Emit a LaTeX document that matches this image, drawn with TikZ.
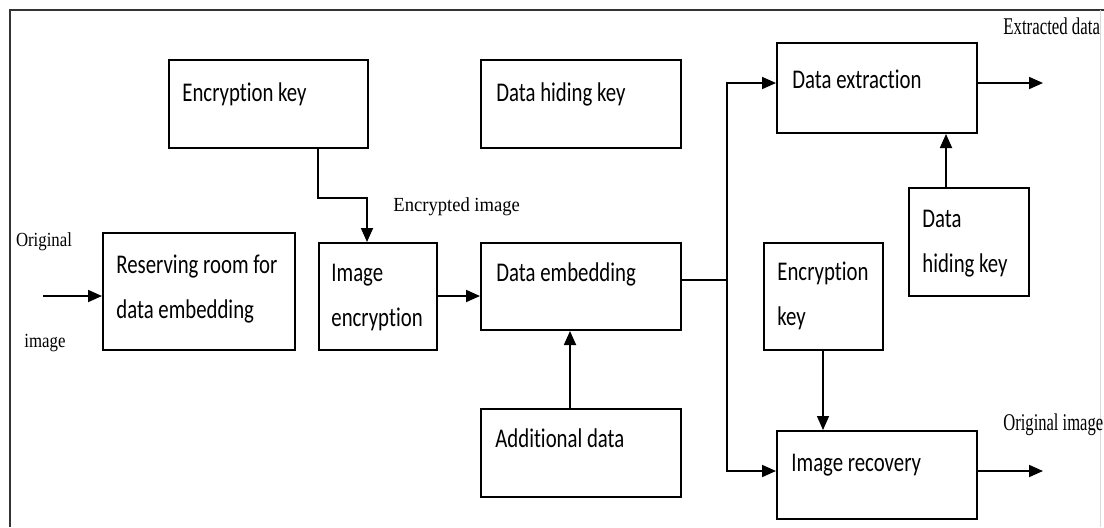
\documentclass[tikz,border=0pt]{standalone}
\usepackage{fontspec}
\usetikzlibrary{arrows.meta,fit}
\newfontfamily\boxfont[FakeStretch=0.77,Ligatures=NoCommon]{Carlito}
\newfontfamily\lblfont{Liberation Serif}
\newcommand{\sx}[2]{\scalebox{#1}[1]{#2}}
\begin{document}
\begin{tikzpicture}[x=0.5pt,y=-0.5pt,
  box/.style={draw=black, line width=1pt, inner sep=0pt},
  btxt/.style={font=\boxfont\fontsize{13.5}{22.5}\selectfont, anchor=base west, inner sep=0pt, align=left},
  ltxt/.style={font=\lblfont\fontsize{10}{12}\selectfont, inner sep=0pt},
  bigl/.style={font=\lblfont\fontsize{12}{14}\selectfont, inner sep=0pt},
  conn/.style={line width=0.9pt},
  arr/.style={conn, -{Triangle[length=7pt,width=6pt]}},
  frame/.style={line width=1.1pt, draw=black!80}]
\useasboundingbox (0,0) rectangle (1104,527);
% frame
\draw[frame] (10,527) -- (10,10) -- (1104,10);
\draw[line width=0.5pt, draw=black!15] (1100,10) -- (1100,527);
% boxes
\node[box, fit={(169,60) (368,148)}] (ek1) {};
\node[box, fit={(481,60) (681,148)}] (dhk1) {};
\node[box, fit={(103,233) (295,350)}] (rr) {};
\node[box, fit={(319,243) (437,350)}] (ie) {};
\node[box, fit={(481,243) (681,330)}] (de) {};
\node[box, fit={(481,409) (681,497)}] (ad) {};
\node[box, fit={(777,43) (977,133)}] (dx) {};
\node[box, fit={(909,188) (1029,296)}] (dhk2) {};
\node[box, fit={(764,243) (883,350)}] (ek2) {};
\node[box, fit={(777,431) (977,519)}] (ir) {};
% box texts
\node[btxt] (t-ek1) at ([shift={(14,42)}]ek1.north west) {Encryption key};
\node[btxt] (t-dhk1) at ([shift={(16,42)}]dhk1.north west) {Data hiding key};
\node[btxt] (t-rr) at ([shift={(14,86)}]rr.north west) {Reserving room for\\data embedding};
\node[btxt] (t-ie) at ([shift={(13,84)}]ie.north west) {Image\\encryption};
\node[btxt] (t-de) at ([shift={(16,39)}]de.north west) {Data embedding};
\node[btxt] (t-ad) at ([shift={(15,39)}]ad.north west) {Additional data};
\node[btxt] (t-dx) at ([shift={(16,46)}]dx.north west) {Data extraction};
\node[btxt] (t-dhk2) at ([shift={(14,85)}]dhk2.north west) {Data\\hiding key};
\node[btxt] (t-ek2) at ([shift={(14,83)}]ek2.north west) {Encryption\\key};
\node[btxt] (t-ir) at ([shift={(15,41)}]ir.north west) {Image recovery};
% free labels
\node[ltxt, anchor=base] (l-orig) at (44,246) {\sx{0.84}{Original}};
\node[ltxt, anchor=base] (l-img) at (45,347) {\sx{0.84}{image}};
\node[ltxt, anchor=base west] (l-enc) at (393,211) {\sx{0.93}{Encrypted image}};
\node[bigl, anchor=base west] (l-ext) at (1003,34) {\sx{0.7}{Extracted data}};
\node[bigl, anchor=base west] (l-oim) at (1003,430) {\sx{0.69}{Original image}};
% connectors
\coordinate (in) at (43,296);
\draw[arr] (in) -- (in -| rr.west);
\draw[arr] ([shift={(150,0)}]ek1.south west) -- ++(0,49) -| ([shift={(49,0)}]ie.north west);
\draw[arr] ([shift={(0,-0.5)}]ie.east) -- ([shift={(0,-0.5)}]ie.east -| de.west);
\draw[arr] ([shift={(90,0)}]ad.north west) -- ([shift={(90,0)}]de.south west);
\coordinate (split) at (727,280);
\draw[conn] (split -| de.east) -- (split);
\draw[arr] (split) |- ([shift={(0,-5)}]dx.west);
\draw[arr] (split) |- ([shift={(0,-4)}]ir.west);
\coordinate (xout) at (1043,83);
\coordinate (rout) at (1043,471);
\draw[arr] (xout -| dx.east) -- (xout);
\draw[arr] (rout -| ir.east) -- (rout);
\draw[arr] ([shift={(38,0)}]dhk2.north west) -- ([shift={(38,0)}]dhk2.north west |- dx.south);
\draw[arr, line width=0.7pt] ([shift={(60,0)}]ek2.south west) -- ([shift={(60,0)}]ek2.south west |- ir.north);
\end{tikzpicture}
\end{document}
